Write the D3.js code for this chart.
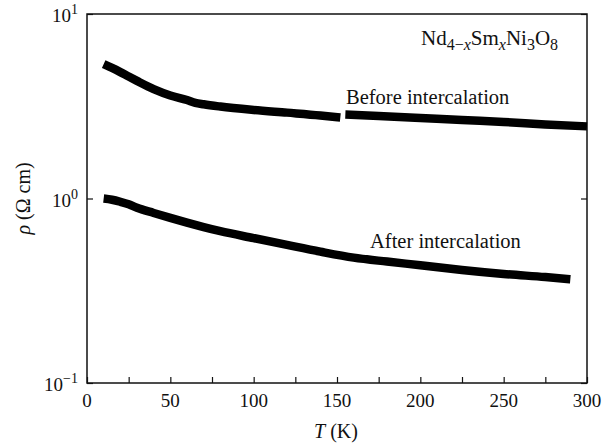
<!DOCTYPE html>
<html>
<head>
<meta charset="utf-8">
<script src="https://cdn.jsdelivr.net/npm/d3@7"></script>
<style>
  body { margin: 0; background: #fff; }
  text { font-family: "Liberation Serif", "DejaVu Serif", serif; fill: #111; }
</style>
</head>
<body>
<svg id="chart" width="614" height="447"></svg>
<script>
// Data
const xTicks = [0, 50, 100, 150, 200, 250, 300];
const yTicks = [0.1, 1, 10];
const yTickExp = ['\u22121', '0', '1'];

// before intercalation (null = gap near 153 K)
const beforeT = [10, 15, 20, 25, 30, 40, 50, 60, 65, 70, 80, 100, 120, 140, 152, 153.5, 155, 175, 200, 225, 250, 275, 300];
const beforeRho = [5.35, 5.10, 4.84, 4.58, 4.34, 3.92, 3.62, 3.42, 3.30, 3.24, 3.15, 3.02, 2.92, 2.82, 2.75, null, 2.85, 2.80, 2.73, 2.66, 2.60, 2.52, 2.46];

const afterT = [10, 15, 20, 25, 30, 40, 50, 60, 70, 80, 100, 120, 140, 160, 180, 200, 225, 250, 275, 290];
const afterRho = [1.0, 0.985, 0.96, 0.93, 0.89, 0.835, 0.785, 0.74, 0.70, 0.665, 0.61, 0.56, 0.515, 0.478, 0.455, 0.435, 0.41, 0.39, 0.375, 0.365];

const width = 614, height = 447;
const margin = { top: 14, right: 27, bottom: 64, left: 87 };

function drawChart() {
    const svg = d3.select('#chart');

    const x = d3.scaleLinear()
    .domain([0, 300])
    .range([margin.left, width - margin.right]);

    const y = d3.scaleLog()
    .domain([0.1, 10])
    .range([height - margin.bottom, margin.top]);

    // frame
    svg.append('rect')
    .attr('x', margin.left)
    .attr('y', margin.top)
    .attr('width', width - margin.left - margin.right)
    .attr('height', height - margin.top - margin.bottom)
    .attr('fill', 'none')
    .attr('stroke', '#111')
    .attr('stroke-width', 1.5);

    // bottom axis, ticks inside every 25 K
    const xAxis = svg.append('g')
    .attr('transform', `translate(0,${height - margin.bottom})`)
    .call(d3.axisBottom(x).tickValues(d3.range(0, 301, 25)).tickSize(-6).tickFormat(''));
    xAxis.select('.domain').remove();
    xAxis.selectAll('line').attr('stroke', '#111').attr('stroke-width', 1.2);

    svg.selectAll('.xlab')
    .data(xTicks)
    .enter()
    .append('text')
    .attr('class', 'xlab')
    .attr('x', d => x(d))
    .attr('y', 407)
    .attr('text-anchor', 'middle')
    .style('font-size', '19px')
    .text(d => d);

    // left and right tick marks
    const yAxisL = svg.append('g')
    .attr('transform', `translate(${margin.left},0)`)
    .call(d3.axisLeft(y).tickValues(yTicks).tickSize(-6).tickFormat(''));
    yAxisL.select('.domain').remove();
    yAxisL.selectAll('line').attr('stroke', '#111').attr('stroke-width', 1.2);

    const yAxisR = svg.append('g')
    .attr('transform', `translate(${width - margin.right},0)`)
    .call(d3.axisRight(y).tickValues(yTicks).tickSize(-6).tickFormat(''));
    yAxisR.select('.domain').remove();
    yAxisR.selectAll('line').attr('stroke', '#111').attr('stroke-width', 1.2);

    // y tick labels as powers of ten
    const ylab = svg.selectAll('.ylab')
    .data(yTicks)
    .enter()
    .append('text')
    .attr('class', 'ylab')
    .attr('x', margin.left - 9)
    .attr('y', d => y(d) + 8)
    .attr('text-anchor', 'end')
    .style('font-size', '19px');
    ylab.append('tspan').text('10');
    ylab.append('tspan')
    .attr('dy', -8)
    .style('font-size', '14px')
    .text((d, i) => yTickExp[i]);

    // curves
    const line = d3.line()
    .defined(d => d[1] !== null)
    .x(d => x(d[0]))
    .y(d => y(d[1]))
    .curve(d3.curveMonotoneX);

    const series = [d3.zip(beforeT, beforeRho), d3.zip(afterT, afterRho)];
    svg.selectAll('.curve')
    .data(series)
    .enter()
    .append('path')
    .attr('class', 'curve')
    .attr('d', line)
    .attr('fill', 'none')
    .attr('stroke', '#000')
    .attr('stroke-width', 8.5)
    .attr('stroke-linejoin', 'round');

    // annotations
    svg.append('text')
    .attr('x', 346)
    .attr('y', 104)
    .style('font-size', '20.5px')
    .text('Before intercalation');

    svg.append('text')
    .attr('x', 370)
    .attr('y', 248)
    .style('font-size', '20.5px')
    .text('After intercalation');

    const formula = svg.append('text')
    .attr('x', 421)
    .attr('y', 45)
    .style('font-size', '21px');
    formula.append('tspan').text('Nd');
    formula.append('tspan').attr('dy', 5).style('font-size', '16px').text('4\u2212');
    formula.append('tspan').style('font-size', '16px').style('font-style', 'italic').text('x');
    formula.append('tspan').attr('dy', -5).text('Sm');
    formula.append('tspan').attr('dy', 5).style('font-size', '16px').style('font-style', 'italic').text('x');
    formula.append('tspan').attr('dy', -5).text('Ni');
    formula.append('tspan').attr('dy', 5).style('font-size', '16px').text('3');
    formula.append('tspan').attr('dy', -5).text('O');
    formula.append('tspan').attr('dy', 5).style('font-size', '16px').text('8');

    // axis labels
    const xl = svg.append('text')
    .attr('x', 336)
    .attr('y', 438)
    .attr('text-anchor', 'middle')
    .style('font-size', '20px');
    xl.append('tspan').style('font-style', 'italic').text('T');
    xl.append('tspan').text(' (K)');

    const yl = svg.append('text')
    .attr('transform', `translate(30,${(margin.top + height - margin.bottom) / 2}) rotate(-90)`)
    .attr('text-anchor', 'middle')
    .style('font-size', '20px');
    yl.append('tspan').style('font-style', 'italic').text('\u03c1');
    yl.append('tspan').text(' (\u03a9 cm)');
}

drawChart();
</script>
</body>
</html>
